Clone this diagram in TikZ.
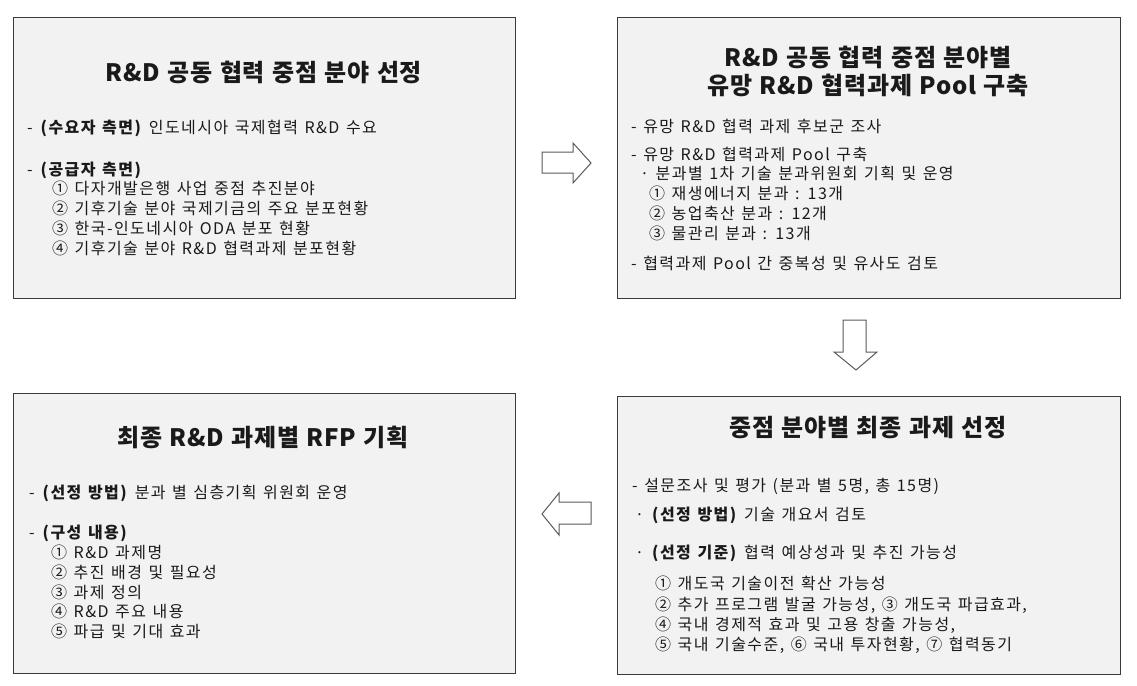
\documentclass[tikz,border=0pt]{standalone}
\usepackage{fontspec}
\setmainfont{Noto Sans CJK KR}
\newfontfamily\bodyf{Noto Sans CJK KR}[LetterSpace=9, WordSpace=1.3]
\newfontfamily\ttlf{Noto Sans CJK KR}[LetterSpace=3, WordSpace=1.2]
\definecolor{boxfill}{HTML}{F2F2F2}
\definecolor{boxline}{HTML}{3A3A3A}
\definecolor{arrline}{HTML}{5A5A5A}
\definecolor{txt}{HTML}{1A1A1A}
\tikzset{
  box/.style={draw=boxline, fill=boxfill, line width=1.2pt, anchor=north west, inner sep=0},
  ttl/.style={font=\ttlf\fontsize{24}{28}\selectfont\bfseries, text=txt, align=center, inner sep=0},
  ln/.style={font=\bodyf\fontsize{16}{18}\selectfont, anchor=west, inner sep=0, text=txt},
  blk/.style={draw=arrline, fill=white, line width=1pt, line join=miter}
}
\begin{document}
\begin{tikzpicture}[x=1pt,y=-1pt]
\useasboundingbox (0,0) rectangle (1137,685);
% boxes
\node[box, minimum width=502pt, minimum height=281pt] (b1) at (13,17) {};
\node[box, minimum width=503pt, minimum height=281pt] (b2) at (617,17) {};
\node[box, minimum width=502pt, minimum height=280pt] (b3) at (13,393) {};
\node[box, minimum width=503pt, minimum height=278pt] (b4) at (617,396) {};
% box 1
\node[ttl] (t1) at (264,72) {R\&D 공동 협력 중점 분야 선정};
\node[ln] (a1) at (27,128) {- \textbf{(수요자 측면)} 인도네시아 국제협력 R\&D 수요};
\node[ln] (a2) at (27,170) {- \textbf{(공급자 측면)}};
\node[ln] (a3) at (52,188) {① 다자개발은행 사업 중점 추진분야};
\node[ln] (a4) at (52,208) {② 기후기술 분야 국제기금의 주요 분포현황};
\node[ln] (a5) at (52,228) {③ 한국-인도네시아 ODA 분포 현황};
\node[ln] (a6) at (52,248) {④ 기후기술 분야 R\&D 협력과제 분포현황};
% box 2
\node[ttl] (t2) at (868,71) {R\&D 공동 협력 중점 분야별\\유망 R\&D 협력과제 Pool 구축};
\node[ln] (c1) at (631,126) {- 유망 R\&D 협력 과제 후보군 조사};
\node[ln] (c2) at (631,154) {- 유망 R\&D 협력과제 Pool 구축};
\node[ln] (c3) at (640,173) {· 분과별 1차 기술 분과위원회 기획 및 운영};
\node[ln] (c4) at (649,193) {① 재생에너지 분과 : 13개};
\node[ln] (c5) at (649,213) {② 농업축산 분과 : 12개};
\node[ln] (c6) at (649,233) {③ 물관리 분과 : 13개};
\node[ln] (c7) at (631,263) {- 협력과제 Pool 간 중복성 및 유사도 검토};
% box 3
\node[ttl] (t3) at (263,437) {최종 R\&D 과제별 RFP 기획};
\node[ln] (d1) at (29,493) {- \textbf{(선정 방법)} 분과 별 심층기획 위원회 운영};
\node[ln] (d2) at (29,533) {- \textbf{(구성 내용)}};
\node[ln] (d3) at (51,552) {① R\&D 과제명};
\node[ln] (d4) at (51,572) {② 추진 배경 및 필요성};
\node[ln] (d5) at (51,592) {③ 과제 정의};
\node[ln] (d6) at (51,611) {④ R\&D 주요 내용};
\node[ln] (d7) at (51,631) {⑤ 파급 및 기대 효과};
% box 4
\node[ttl] (t4) at (868,428) {중점 분야별 최종 과제 선정};
\node[ln] (e1) at (632,486) {- 설문조사 및 평가 (분과 별 5명, 총 15명)};
\node[ln] (e2) at (635,515) {·\enspace\textbf{(선정 방법)} 기술 개요서 검토};
\node[ln] (e3) at (635,553) {·\enspace\textbf{(선정 기준)} 협력 예상성과 및 추진 가능성};
\node[ln] (e4) at (655,583) {① 개도국 기술이전 확산 가능성};
\node[ln] (e5) at (655,605) {② 추가 프로그램 발굴 가능성, ③ 개도국 파급효과,};
\node[ln] (e6) at (655,625) {④ 국내 경제적 효과 및 고용 창출 가능성,};
\node[ln] (e7) at (655,645) {⑤ 국내 기술수준, ⑥ 국내 투자현황, ⑦ 협력동기};
% block arrows
\draw[blk] (542,152) -- (573,152) -- (573,143) -- (591,163) -- (573,183) -- (573,173) -- (542,173) -- cycle;
\draw[blk] (843,320) -- (866,320) -- (866,352) -- (877,352) -- (856,370) -- (834,352) -- (843,352) -- cycle;
\draw[blk] (591,502) -- (559,502) -- (559,493) -- (542,514) -- (559,535) -- (559,524) -- (591,524) -- cycle;
\end{tikzpicture}
\end{document}
